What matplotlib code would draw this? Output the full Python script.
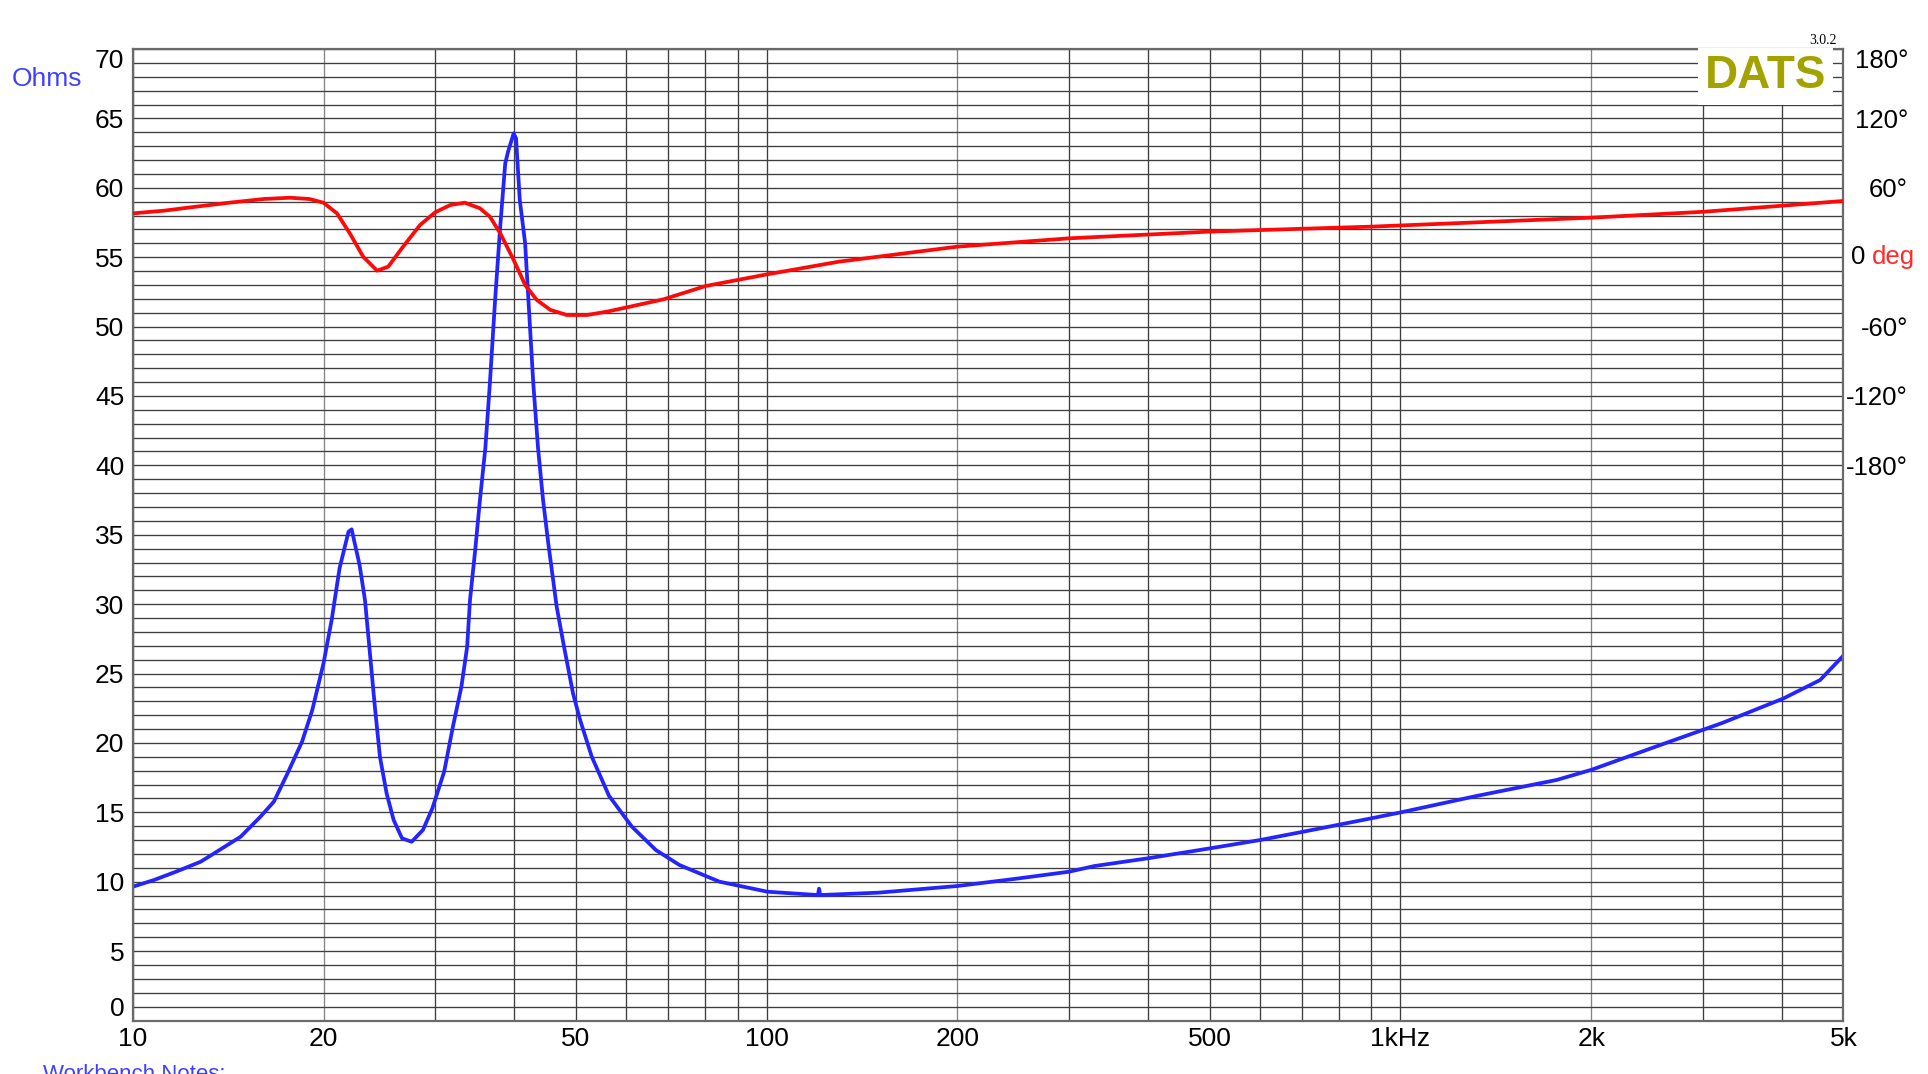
import numpy as np
import matplotlib.pyplot as plt
from matplotlib import transforms

plt.rcParams['font.family'] = ['Liberation Sans', 'DejaVu Sans']

# impedance magnitude (ohms) vs frequency (Hz)
imp_freq = [10.0, 10.8, 11.7, 12.8, 13.7, 14.8, 15.9, 16.7, 17.5, 18.5, 19.2,
            20.0, 20.6, 21.2, 21.9, 22.15, 22.8, 23.25, 23.7, 24.1, 24.55, 25.15,
            25.8, 26.6, 27.55, 28.7, 29.7, 31.0, 32.0, 33.0, 33.7, 34.05, 34.7,
            35.3, 36.0, 36.6, 37.3, 38.0, 38.7, 39.1, 39.9, 40.25, 40.8, 41.6,
            42.1, 42.85, 43.6, 44.4, 45.25, 46.65, 47.8, 49.5, 50.8, 53.0, 55.3,
            56.4, 61.3, 66.9, 72.9, 84.3, 100.3, 120.5, 121.0, 121.5, 150, 200,
            246, 300, 329, 400, 500, 600, 702, 900, 1002, 1319, 1763, 2000, 2570,
            3215, 4018, 4592, 5000]
imp_ohms = [9.64, 10.12, 10.72, 11.44, 12.28, 13.24, 14.68, 15.77, 17.69, 20.09,
            22.37, 25.74, 28.86, 32.58, 35.22, 35.39, 32.82, 30.3, 26.21, 22.61,
            19.0, 16.37, 14.45, 13.13, 12.88, 13.73, 15.29, 17.93, 21.17, 24.05,
            26.93, 30.3, 33.9, 37.5, 41.23, 45.91, 51.91, 57.2, 61.76, 62.6, 63.92,
            63.56, 59.12, 56.0, 51.91, 45.91, 41.23, 37.5, 34.38, 29.82, 27.18,
            23.58, 21.65, 19.0, 17.09, 16.2, 13.97, 12.28, 11.2, 10.0, 9.28, 9.04,
            9.5, 9.04, 9.21, 9.69, 10.2, 10.72, 11.13, 11.69, 12.4, 13.0, 13.6,
            14.57, 15.0, 16.18, 17.33, 18.06, 19.85, 21.43, 23.2, 24.53, 26.3]

# phase (degrees) vs frequency (Hz)
phase_freq = [10.0, 11.2, 12.6, 14.2, 16.1, 17.7, 19.0, 20.0, 21.0, 22.0, 23.1,
              24.3, 25.3, 26.7, 28.4, 30.0, 31.7, 33.4, 35.3, 36.6, 38.0, 39.9,
              41.6, 43.4, 45.6, 48.4, 52.1, 56.0, 60.3, 68.8, 80.2, 100.3, 130,
              200, 300, 500, 900, 2009, 3015, 5000]
phase_deg = [37.9, 40.2, 43.7, 47.1, 50.3, 51.4, 50.3, 47.1, 37.9, 20.7, 0.4,
             -11.7, -8.2, 9.1, 27.8, 38.8, 45.1, 47.1, 42.3, 35.0, 20.7, -2.4,
             -24.0, -37.0, -45.6, -50.0, -50.0, -47.1, -43.3, -36.4, -24.9, -14.8,
             -3.9, 9.1, 16.3, 22.1, 26.4, 34.2, 39.3, 48.6]

ohm_ticks = list(range(0, 75, 5))
deg_ticks = [180, 120, 60, -60, -120, -180]
deg_labels = ['180°', '120°', '60°', '-60°', '-120°', '-180°']
freq_ticks = [10, 20, 50, 100, 200, 500, 1000, 2000, 5000]
freq_labels = ['10', '20', '50', '100', '200', '500', '1kHz', '2k', '5k']
grid_freqs = [10, 20, 30, 40, 50, 60, 70, 80, 90, 100, 200, 300, 400, 500, 600,
              700, 800, 900, 1000, 2000, 3000, 4000, 5000]

fig = plt.figure(figsize=(19.28, 10.74), dpi=100)
ax = fig.add_axes([0.06883, 0.04981, 0.88734, 0.90457])

ax.set_xscale('log')
ax.set_xlim(10, 5000)
ax.set_ylim(0, 70)

# grid
gcol = '#3e3e3e'
for f in grid_freqs:
    c = '#858585' if f in (20, 200, 2000) else gcol
    ax.axvline(f, color=c, lw=0.95, zorder=1)
for v in range(0, 71):
    ax.axhline(v, color=gcol, lw=0.95, zorder=1)

ax.plot(imp_freq, imp_ohms, color='#2424ff', lw=2.7, zorder=3)

ax.set_xticks(freq_ticks)
ax.set_xticklabels(freq_labels)
ax.xaxis.set_minor_locator(plt.NullLocator())
ax.set_yticks(ohm_ticks)
ax.set_yticklabels([str(t) for t in ohm_ticks])
ax.tick_params(axis='both', length=0, labelsize=19)
ax.tick_params(axis='x', pad=5)
ax.tick_params(axis='y', pad=6)
ax.yaxis.get_major_ticks()[-1].label1.set_va('top')
ax.yaxis.get_major_ticks()[0].label1.set_va('bottom')

for s in ax.spines.values():
    s.set_color('#6a6a6a')
    s.set_linewidth(1.6)
    s.set_zorder(5)

# phase axis: 12 degrees per ohm, 0 deg at 55 ohm
ax2 = ax.twinx()
ax2.set_ylim(-660, 180)
ax2.plot(phase_freq, phase_deg, color='#ff0808', lw=2.7, zorder=3)
ax2.set_yticks(deg_ticks)
ax2.set_yticklabels(deg_labels, ha='right')
ax2.tick_params(axis='y', length=0, labelsize=18.5, pad=46.5)
ax2.yaxis.get_major_ticks()[0].label2.set_va('top')
for s in ax2.spines.values():
    s.set_visible(False)

tr = transforms.blended_transform_factory(ax2.transAxes, ax2.transData)
ax2.text(1.0044, 0, '0', transform=tr, ha='left', va='center', fontsize=18.5)
ax2.text(1.0167, 0, 'deg', transform=tr, ha='left', va='center', fontsize=18.5,
         color='#ff2a2a')

ax2.text(0.9545, 0.9717, 'DATS', transform=ax2.transAxes, ha='center',
         va='center', fontsize=33, fontweight='bold', color='#a3a300',
         zorder=10, bbox=dict(facecolor='white', edgecolor='none', pad=5))

fig.text(47 / 1928, 1 - 79 / 1074, 'Ohms', ha='center', va='center',
         fontsize=19, color='#3f3fff')
fig.text(1837 / 1928, 1 - 44.5 / 1074, '3.0.2', ha='right', va='baseline',
         fontsize=10, family='Liberation Serif')
fig.text(43 / 1928, 1 - 1080 / 1074, 'Workbench Notes:', ha='left',
         va='baseline', fontsize=16, color='#3f3fff')

fig.savefig('out.png', dpi=100)
